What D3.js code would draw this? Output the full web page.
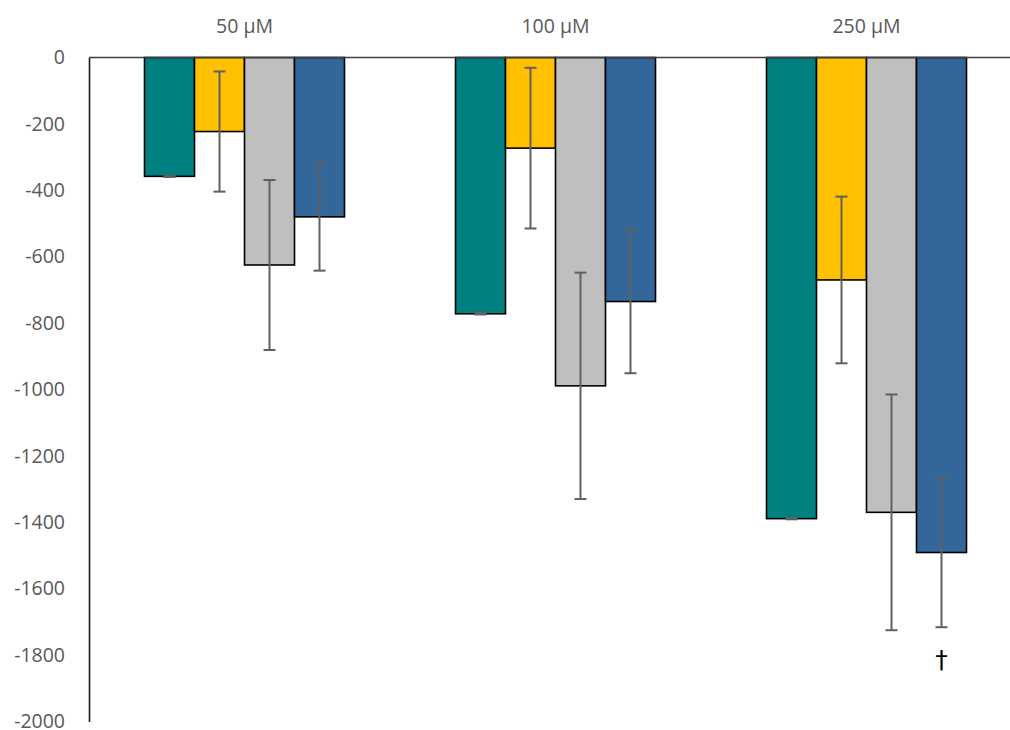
<!DOCTYPE html>
<html>
<head>
<meta charset="utf-8">
<script src="https://cdn.jsdelivr.net/npm/d3@7"></script>
<style>
  html, body { margin: 0; padding: 0; background: #fff; }
  svg { display: block; }
  text { font-family: "Open Sans", "Liberation Sans", sans-serif; }
</style>
</head>
<body>
<svg id="chart" width="1010" height="730"></svg>
<script>
// Concentration groups and the four series drawn in each group
const groups = ["50 µM", "100 µM", "250 µM"];
const seriesKeys = ["s1", "s2", "s3", "s4"];
const seriesColors = ["#008080", "#FFC000", "#BFBFBF", "#336699"];

// Mean change per group (one array per series)
const s1Values = [-358, -772, -1389];
const s2Values = [-223, -273, -670];
const s3Values = [-625, -989, -1370];
const s4Values = [-480, -735, -1491];

// Error half-widths per group
const s1Errors = [2, 2, 2];
const s2Errors = [181, 242, 251];
const s3Errors = [256, 341, 355];
const s4Errors = [162, 216, 225];

// Y axis ticks
const yTicks = [0, -200, -400, -600, -800, -1000, -1200, -1400, -1600, -1800, -2000];

// Significance mark: series s4 at 250 µM
const markGroup = "250 µM";
const markSeries = "s4";
const markSymbol = "†";

const valuesBySeries = [s1Values, s2Values, s3Values, s4Values];
const errorsBySeries = [s1Errors, s2Errors, s3Errors, s4Errors];

const rows = [];
groups.forEach((g, gi) => {
  seriesKeys.forEach((k, si) => {
    rows.push({ group: g, key: k, color: seriesColors[si],
                value: valuesBySeries[si][gi], err: errorsBySeries[si][gi] });
  });
});

const svg = d3.select("#chart");

const x0 = d3.scaleBand().domain(groups).range([89, 1022]).paddingInner(0).paddingOuter(0);
const x1 = d3.scaleBand().domain(seriesKeys).range([0, x0.bandwidth()]).paddingInner(0).paddingOuter(1.11);
const y = d3.scaleLinear().domain([0, -2000]).range([57.5, 721.5]);

// Bars hang down from the zero line
const bars = svg.append("g");
bars.selectAll("rect")
  .data(rows)
  .join("rect")
  .attr("x", d => x0(d.group) + x1(d.key))
  .attr("y", d => y(0))
  .attr("width", x1.bandwidth())
  .attr("height", d => y(d.value) - y(0))
  .attr("fill", d => d.color)
  .attr("stroke", "#000")
  .attr("stroke-width", 1.6);

// Error bars
const capHalf = 6;
const errG = svg.append("g")
  .attr("stroke", "#606060")
  .attr("stroke-width", 2)
  .attr("fill", "none");
rows.forEach(d => {
  const cx = x0(d.group) + x1(d.key) + x1.bandwidth() / 2;
  const yTop = y(d.value + d.err);
  const yBot = y(d.value - d.err);
  errG.append("line").attr("x1", cx).attr("x2", cx).attr("y1", yTop).attr("y2", yBot);
  errG.append("line").attr("x1", cx - capHalf).attr("x2", cx + capHalf).attr("y1", yTop).attr("y2", yTop);
  errG.append("line").attr("x1", cx - capHalf).attr("x2", cx + capHalf).attr("y1", yBot).attr("y2", yBot);
});

// Zero line across the top
svg.append("line")
  .attr("x1", 89).attr("x2", 1010)
  .attr("y1", y(0)).attr("y2", y(0))
  .attr("stroke", "#404040").attr("stroke-width", 1.6);

// Left axis, labels with a plain hyphen for the sign
const yAxis = d3.axisLeft(y).tickValues(yTicks).tickSize(0).tickPadding(24)
  .tickFormat(d => String(d));
const ax = svg.append("g").attr("transform", "translate(89,0)").call(yAxis);
ax.select(".domain").attr("stroke", "#1a1a1a").attr("stroke-width", 1.6);
ax.selectAll("text")
  .attr("fill", "#595959")
  .style("font-size", "19.5px")
  .style("font-family", "'Open Sans', 'Liberation Sans', sans-serif");

// Group labels above the bars
svg.append("g").selectAll("text")
  .data(groups)
  .join("text")
  .attr("x", d => x0(d) + x0.bandwidth() / 2)
  .attr("y", 33)
  .attr("text-anchor", "middle")
  .attr("fill", "#595959")
  .style("font-size", "19.5px")
  .text(d => d);

// Significance mark under the error bar
const mRow = rows.find(r => r.group === markGroup && r.key === markSeries);
svg.append("text")
  .attr("x", x0(mRow.group) + x1(mRow.key) + x1.bandwidth() / 2)
  .attr("y", y(mRow.value - mRow.err) + 32)
  .attr("dy", "0.35em")
  .attr("text-anchor", "middle")
  .attr("fill", "#000")
  .style("font-size", "25px")
  .style("font-family", "'DejaVu Sans', sans-serif")
  .text(markSymbol);
</script>
</body>
</html>
